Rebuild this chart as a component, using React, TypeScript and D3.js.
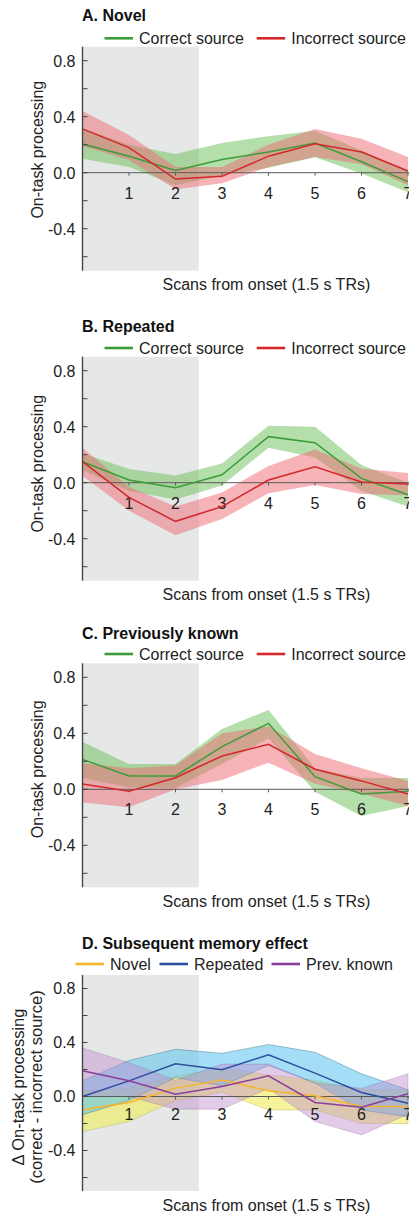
import React from "react";
import * as d3 from "d3";

// ---- data ----
const scans = [0, 1, 2, 3, 4, 5, 6, 7];
const xTickValues = [1, 2, 3, 4, 5, 6, 7];
const yTickValues = [-0.6, -0.4, -0.2, 0, 0.2, 0.4, 0.6, 0.8];
const yTickLabels = ["", "-0.4", "", "0.0", "", "0.4", "", "0.8"];

const panelTitles = ["A. Novel", "B. Repeated", "C. Previously known", "D. Subsequent memory effect"];
const sourceNames = ["Correct source", "Incorrect source"];
const smeNames = ["Novel", "Repeated", "Prev. known"];

// A. Novel
const novelCorrectMean = [0.205, 0.118, 0.016, 0.094, 0.148, 0.212, 0.078, -0.064];
const novelCorrectLo = [0.1, 0.04, -0.09, -0.02, 0.035, 0.11, -0.005, -0.14];
const novelCorrectHi = [0.315, 0.2, 0.134, 0.212, 0.261, 0.3, 0.16, 0.01];
const novelIncorrectMean = [0.313, 0.179, -0.045, -0.026, 0.118, 0.207, 0.148, 0.012];
const novelIncorrectLo = [0.19, 0.09, -0.118, -0.075, 0.04, 0.113, 0.06, -0.09];
const novelIncorrectHi = [0.44, 0.27, 0.04, 0.04, 0.2, 0.313, 0.242, 0.113];

// B. Repeated
const repCorrectMean = [0.15, 0.019, -0.036, 0.057, 0.329, 0.286, 0.031, -0.086];
const repCorrectLo = [0.09, -0.06, -0.12, -0.02, 0.25, 0.18, -0.06, -0.17];
const repCorrectHi = [0.21, 0.098, 0.052, 0.138, 0.407, 0.4, 0.126, 0.0];
const repIncorrectMean = [0.15, -0.105, -0.276, -0.171, 0.019, 0.114, 0.005, -0.01];
const repIncorrectLo = [0.05, -0.2, -0.376, -0.26, -0.076, -0.017, -0.08, -0.09];
const repIncorrectHi = [0.25, -0.03, -0.17, -0.07, 0.12, 0.238, 0.1, 0.07];

// C. Previously known
const prevCorrectMean = [0.214, 0.095, 0.095, 0.305, 0.471, 0.09, -0.033, -0.014];
const prevCorrectLo = [0.08, 0.015, 0.01, 0.18, 0.364, -0.017, -0.19, -0.12];
const prevCorrectHi = [0.34, 0.18, 0.18, 0.43, 0.567, 0.15, 0.08, 0.08];
const prevIncorrectMean = [0.038, -0.014, 0.083, 0.238, 0.321, 0.143, 0.06, -0.033];
const prevIncorrectLo = [-0.095, -0.129, 0.0, 0.067, 0.19, 0.04, -0.03, -0.12];
const prevIncorrectHi = [0.186, 0.15, 0.17, 0.4, 0.45, 0.252, 0.15, 0.06];

// D. Subsequent memory effect
const smeNovelMean = [-0.099, -0.044, 0.062, 0.123, 0.042, 0.005, -0.074, -0.074];
const smeNovelLo = [-0.26, -0.185, -0.03, 0.03, -0.1, -0.1, -0.2, -0.2];
const smeNovelHi = [0.04, 0.06, 0.15, 0.21, 0.16, 0.12, 0.05, 0.05];
const smeRepMean = [0.0, 0.116, 0.242, 0.198, 0.309, 0.173, 0.03, -0.05];
const smeRepLo = [-0.135, -0.03, 0.14, 0.08, 0.23, 0.1, -0.1, -0.15];
const smeRepHi = [0.116, 0.267, 0.35, 0.32, 0.385, 0.328, 0.168, 0.05];
const smePrevMean = [0.19, 0.116, 0.017, 0.074, 0.153, -0.044, -0.079, 0.02];
const smePrevLo = [0.0, 0.0, -0.094, -0.094, 0.06, -0.185, -0.285, -0.13];
const smePrevHi = [0.36, 0.25, 0.12, 0.24, 0.24, 0.1, 0.06, 0.168];

const shadeEnd = 2.5;

// ---- styles ----
const FONT = "'Liberation Sans', Arial, Helvetica, sans-serif";
const TXT = "#222";
const GREEN = { line: "#3c9c3a", band: "rgba(105,190,85,0.5)" };
const RED = { line: "#d3272b", band: "rgba(238,105,115,0.5)" };
const YELLOW = { line: "#f7b52c", band: "rgba(238,236,90,0.6)", edge: "rgba(150,150,60,0.35)" };
const BLUE = { line: "#2d4d9e", band: "rgba(90,195,238,0.55)", edge: "rgba(40,90,120,0.45)" };
const PURPLE = { line: "#8b3f9c", band: "rgba(190,140,205,0.45)", edge: "rgba(120,80,130,0.3)" };

type Series = { mean: number[]; lo: number[]; hi: number[]; line: string; band: string; edge?: string };

type PanelLayout = {
  top: number;
  height: number;
  titleDy: number;
  legendDy: number;
  tickDy: number;
  ylabelDy: number;
};

const X0 = 82.5;
const X7 = 408;

function Panel({
  layout,
  title,
  series,
  legend,
  ylabel,
}: {
  layout: PanelLayout;
  title: string;
  series: Series[];
  legend: { name: string; color: string; x: number }[];
  ylabel: string[];
}) {
  const { top, height } = layout;
  const bottom = top + height;
  const x = d3.scaleLinear().domain([0, 7]).range([X0, X7]);
  const y = d3.scaleLinear().domain([-0.7, 0.9]).range([bottom, top]);
  const area = d3
    .area<number>()
    .x((_, i) => x(scans[i]))
    .y0((d) => y(d));
  const line = d3
    .line<number>()
    .x((_, i) => x(scans[i]))
    .y((d) => y(d));

  const legendY = top - layout.legendDy;
  const ylabelY = top + layout.ylabelDy;

  return (
    <g>
      <text x={X0 - 0.5} y={top - layout.titleDy} fontFamily={FONT} fontSize={16} fontWeight="bold" fill="#111">
        {title}
      </text>
      {legend.map((l) => (
        <g key={l.name}>
          <line x1={l.x} x2={l.x + 28.5} y1={legendY} y2={legendY} stroke={l.color} strokeWidth={2.6} />
          <text x={l.x + 34.5} y={legendY + 5.8} fontFamily={FONT} fontSize={16} fill={TXT}>
            {l.name}
          </text>
        </g>
      ))}
      <rect x={x(0)} y={top} width={x(shadeEnd) - x(0)} height={height} fill="#e6e8e7" />
      {series.map((s, k) => {
        const a = d3
          .area<number>()
          .x((_, i) => x(scans[i]))
          .y0((_, i) => y(s.lo[i]))
          .y1((_, i) => y(s.hi[i]));
        return (
          <path
            key={"band" + k}
            d={a(s.mean) || ""}
            fill={s.band}
            stroke={s.edge || "none"}
            strokeWidth={s.edge ? 0.8 : 0}
          />
        );
      })}
      <line x1={x(0)} x2={409} y1={y(0)} y2={y(0)} stroke="#5a5a5a" strokeWidth={1} />
      {xTickValues.map((v) => (
        <g key={"xt" + v}>
          <line x1={x(v)} x2={x(v)} y1={y(0)} y2={y(0) + 3} stroke="#5a5a5a" strokeWidth={1} />
          <text
            x={x(v)}
            y={y(0) + layout.tickDy}
            textAnchor="middle"
            fontFamily={FONT}
            fontSize={16}
            fill={TXT}
          >
            {v}
          </text>
        </g>
      ))}
      {series.map((s, k) => (
        <path key={"line" + k} d={line(s.mean) || ""} fill="none" stroke={s.line} strokeWidth={1.5} />
      ))}
      <line x1={x(0)} x2={x(0)} y1={top} y2={bottom} stroke="#444" strokeWidth={1.4} />
      {yTickValues.map((v, i) => (
        <g key={"yt" + i}>
          <line x1={x(0)} x2={x(0) + 5} y1={y(v)} y2={y(v)} stroke="#444" strokeWidth={1} />
          {yTickLabels[i] && (
            <text
              x={75.5}
              y={y(v) + 5.8}
              textAnchor="end"
              fontFamily={FONT}
              fontSize={16}
              fill={TXT}
            >
              {yTickLabels[i]}
            </text>
          )}
        </g>
      ))}
      {ylabel.length === 1 ? (
        <text
          transform={`translate(43,${ylabelY}) rotate(-90)`}
          textAnchor="middle"
          fontFamily={FONT}
          fontSize={16}
          fill={TXT}
        >
          {ylabel[0]}
        </text>
      ) : (
        ylabel.map((t, i) => (
          <text
            key={t}
            transform={`translate(${24 + i * 18},${ylabelY}) rotate(-90)`}
            textAnchor="middle"
            fontFamily={FONT}
            fontSize={16.5}
            fill={TXT}
          >
            {t}
          </text>
        ))
      )}
      <text x={162.5} y={bottom + 19.5} fontFamily={FONT} fontSize={16} fill={TXT}>
        Scans from onset (1.5 s TRs)
      </text>
    </g>
  );
}

export default function App() {
  const sourceLegend = [
    { name: sourceNames[0], color: GREEN.line, x: 104.5 },
    { name: sourceNames[1], color: RED.line, x: 256.7 },
  ];
  const smeLegend = [
    { name: smeNames[0], color: YELLOW.line, x: 75.5 },
    { name: smeNames[1], color: BLUE.line, x: 159.5 },
    { name: smeNames[2], color: PURPLE.line, x: 271.5 },
  ];
  const mk = (mean: number[], lo: number[], hi: number[], c: any): Series => ({
    mean,
    lo,
    hi,
    line: c.line,
    band: c.band,
    edge: c.edge,
  });
  const layouts: PanelLayout[] = [
    { top: 46.7, height: 224, titleDy: 25.3, legendDy: 8.4, tickDy: 26.3, ylabelDy: 103 },
    { top: 356.7, height: 224, titleDy: 24.5, legendDy: 8.7, tickDy: 25.8, ylabelDy: 107 },
    { top: 663.3, height: 224, titleDy: 24.5, legendDy: 9.3, tickDy: 25.8, ylabelDy: 106 },
    { top: 975, height: 216, titleDy: 26, legendDy: 11, tickDy: 23, ylabelDy: 112 },
  ];
  return (
    <svg
      width={409}
      height={1216}
      style={{ position: "absolute", left: 0, top: 0, background: "#fff" }}
    >
      <rect x={0} y={0} width={409} height={1216} fill="#fff" />
      <Panel
        layout={layouts[0]}
        title={panelTitles[0]}
        legend={sourceLegend}
        ylabel={["On-task processing"]}
        series={[
          mk(novelCorrectMean, novelCorrectLo, novelCorrectHi, GREEN),
          mk(novelIncorrectMean, novelIncorrectLo, novelIncorrectHi, RED),
        ]}
      />
      <Panel
        layout={layouts[1]}
        title={panelTitles[1]}
        legend={sourceLegend}
        ylabel={["On-task processing"]}
        series={[
          mk(repCorrectMean, repCorrectLo, repCorrectHi, GREEN),
          mk(repIncorrectMean, repIncorrectLo, repIncorrectHi, RED),
        ]}
      />
      <Panel
        layout={layouts[2]}
        title={panelTitles[2]}
        legend={sourceLegend}
        ylabel={["On-task processing"]}
        series={[
          mk(prevCorrectMean, prevCorrectLo, prevCorrectHi, GREEN),
          mk(prevIncorrectMean, prevIncorrectLo, prevIncorrectHi, RED),
        ]}
      />
      <Panel
        layout={layouts[3]}
        title={panelTitles[3]}
        legend={smeLegend}
        ylabel={["Δ On-task processing", "(correct - incorrect source)"]}
        series={[
          mk(smeNovelMean, smeNovelLo, smeNovelHi, YELLOW),
          mk(smeRepMean, smeRepLo, smeRepHi, BLUE),
          mk(smePrevMean, smePrevLo, smePrevHi, PURPLE),
        ]}
      />
    </svg>
  );
}
